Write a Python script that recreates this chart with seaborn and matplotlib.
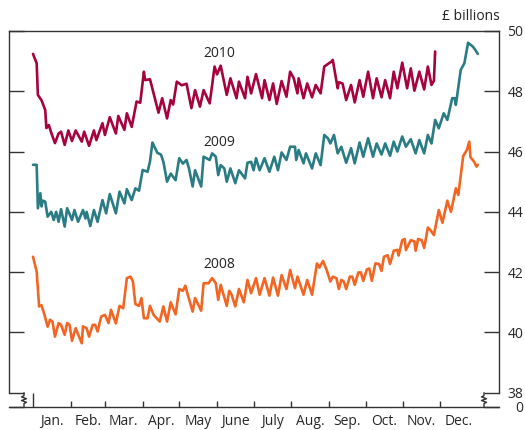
import pandas as pd
import matplotlib
matplotlib.use('Agg')
import matplotlib.pyplot as plt
import matplotlib.transforms as mtransforms
import seaborn as sns

# -----------------------------
# Data (day of year, £ billions)
# -----------------------------

days_2010 = [0, 3, 4, 7, 10, 11, 13, 15, 18, 21, 23, 26, 29, 32, 35, 40, 42, 46, 50, 52,
             57, 59, 63, 68, 70, 75, 77, 81, 85, 88, 91, 92, 96, 103, 106, 110, 113, 115,
             118, 122, 126, 130, 133, 137, 140, 145, 149, 151, 154, 159, 162, 167, 169,
             174, 176, 179, 183, 188, 190, 194, 197, 200, 204, 208, 211, 214, 217, 218,
             222, 225, 229, 232, 236, 239, 245, 246, 250, 251, 254, 257, 261, 264, 268,
             271, 275, 279, 282, 286, 289, 293, 296, 299, 303, 307, 310, 313, 317, 321,
             324, 327, 329, 330]
vals_2010 = [49.24, 48.93, 47.88, 47.70, 47.38, 46.78, 46.88, 46.62, 46.28, 46.60, 46.66,
             46.22, 46.70, 46.35, 46.70, 46.33, 46.66, 46.19, 46.70, 46.38, 46.94, 46.55,
             47.14, 46.60, 47.18, 46.72, 47.27, 46.82, 47.66, 47.62, 48.65, 48.37, 48.40,
             47.29, 47.77, 47.10, 47.71, 47.56, 48.32, 48.20, 48.25, 47.44, 48.04, 47.49,
             48.04, 47.60, 48.82, 48.56, 48.85, 47.88, 48.43, 47.77, 48.32, 47.77, 48.48,
             47.93, 48.57, 47.77, 48.37, 47.71, 48.26, 47.58, 48.34, 47.82, 48.65, 48.43,
             47.93, 48.43, 47.77, 48.26, 47.80, 48.21, 47.93, 48.82, 48.99, 49.04, 48.10,
             48.30, 48.26, 47.71, 48.21, 47.63, 48.37, 47.82, 48.65, 47.77, 48.43, 47.80,
             48.37, 47.77, 48.65, 48.10, 48.95, 48.10, 48.76, 48.02, 48.65, 48.06, 48.82,
             48.21, 48.35, 49.32]

days_2009 = [0, 3, 4, 6, 7, 8, 10, 12, 15, 17, 19, 21, 23, 26, 28, 32, 34, 37, 41, 43, 44,
             47, 50, 53, 57, 60, 63, 68, 71, 75, 77, 81, 84, 87, 90, 94, 96, 98, 102, 105,
             107, 110, 113, 115, 117, 120, 123, 126, 128, 131, 133, 138, 140, 145, 147,
             150, 152, 154, 157, 159, 162, 166, 169, 174, 176, 179, 181, 183, 186, 190,
             194, 198, 201, 204, 208, 211, 215, 216, 218, 222, 224, 229, 232, 236, 239,
             242, 244, 247, 250, 253, 257, 261, 264, 268, 271, 275, 279, 282, 286, 289,
             293, 296, 299, 303, 306, 310, 314, 317, 321, 324, 327, 330, 333, 337, 340,
             344, 346, 347, 351, 354, 357, 361, 363, 365]
vals_2009 = [45.56, 45.56, 44.12, 44.62, 44.18, 44.37, 44.34, 43.84, 44.00, 43.73, 44.00,
             43.67, 44.09, 43.51, 44.12, 43.73, 44.06, 43.67, 44.06, 43.78, 44.00, 43.53,
             44.06, 43.67, 44.39, 43.95, 44.59, 43.95, 44.67, 44.28, 44.75, 44.39, 44.78,
             44.70, 45.39, 45.33, 45.67, 46.30, 45.96, 45.90, 45.66, 45.00, 45.27, 45.16,
             45.05, 45.78, 45.60, 45.72, 45.44, 44.84, 45.38, 44.84, 45.83, 45.72, 45.94,
             45.83, 45.22, 45.55, 45.44, 45.00, 45.44, 44.95, 45.38, 45.11, 45.63, 45.66,
             45.38, 45.78, 45.38, 45.78, 45.33, 45.83, 45.38, 45.97, 45.72, 46.16, 46.16,
             45.72, 46.05, 45.61, 45.94, 45.44, 45.94, 45.55, 46.55, 46.44, 46.27, 46.55,
             45.94, 46.16, 45.63, 46.11, 45.61, 46.30, 45.83, 46.44, 45.83, 46.27, 45.90,
             46.27, 45.86, 46.33, 46.00, 46.50, 46.16, 46.41, 45.94, 46.38, 45.94, 46.55,
             46.27, 47.05, 46.77, 47.27, 47.05, 47.77, 47.77, 47.55, 48.71, 48.93, 49.61,
             49.48, 49.37, 49.24]

days_2008 = [0, 3, 5, 7, 9, 12, 14, 16, 18, 21, 23, 26, 28, 30, 32, 35, 40, 41, 44, 46, 49,
             51, 53, 56, 59, 62, 64, 68, 71, 74, 77, 80, 82, 84, 87, 89, 91, 94, 96, 99,
             104, 107, 110, 113, 117, 120, 123, 125, 127, 131, 133, 138, 140, 144, 147,
             150, 152, 154, 156, 159, 161, 163, 166, 169, 173, 176, 179, 183, 186, 190,
             194, 197, 201, 204, 208, 211, 215, 217, 222, 225, 229, 233, 235, 238, 241,
             244, 246, 249, 251, 253, 255, 257, 260, 262, 264, 267, 269, 271, 274, 276,
             278, 281, 284, 286, 288, 291, 293, 296, 299, 300, 303, 305, 306, 310, 313,
             314, 316, 319, 321, 324, 326, 329, 333, 336, 340, 343, 347, 349, 353, 356,
             358, 359, 362, 364, 365]
vals_2008 = [42.51, 42.02, 40.86, 40.90, 40.64, 40.19, 40.42, 40.36, 39.86, 40.31, 40.25,
             39.92, 40.31, 40.25, 39.72, 40.14, 39.64, 40.20, 40.14, 39.86, 40.25, 40.25,
             40.03, 40.53, 40.58, 40.31, 40.75, 40.30, 40.88, 40.80, 41.80, 41.85, 41.69,
             40.94, 40.88, 41.14, 40.47, 40.47, 40.88, 40.58, 40.36, 40.86, 40.36, 41.00,
             40.60, 41.44, 41.38, 41.55, 41.25, 40.69, 41.14, 40.72, 41.63, 41.63, 41.80,
             41.63, 41.08, 41.58, 41.30, 40.88, 41.38, 41.25, 40.86, 41.44, 41.00, 41.74,
             41.30, 41.80, 41.25, 41.80, 41.22, 41.82, 41.22, 41.90, 41.44, 42.07, 41.47,
             41.85, 41.25, 41.74, 41.25, 42.29, 42.15, 42.37, 42.07, 41.69, 41.85, 41.80,
             41.44, 41.74, 41.69, 41.44, 41.85, 41.85, 41.58, 41.99, 41.99, 41.71, 42.09,
             42.12, 41.71, 42.29, 42.27, 42.04, 42.51, 42.56, 42.27, 42.71, 42.74, 42.55,
             43.06, 43.10, 42.73, 43.06, 43.02, 42.71, 43.10, 43.06, 42.80, 43.48, 43.40,
             43.23, 44.06, 43.64, 44.37, 44.00, 44.78, 44.56, 45.85, 46.05, 46.33, 45.81,
             45.66, 45.50, 45.56]

month_labels = ['Jan.', 'Feb.', 'Mar.', 'Apr.', 'May', 'June',
                'July', 'Aug.', 'Sep.', 'Oct.', 'Nov.', 'Dec.']
y_ticks = [38, 40, 42, 44, 46, 48, 50]

colors = {'2008': '#F26522', '2009': '#2A7C84', '2010': '#A6023E'}

# -----------------------------
# Plot
# -----------------------------

sns.set_style('white')
plt.rcParams['font.family'] = ['Open Sans', 'DejaVu Sans']
plt.rcParams['text.color'] = '#222222'

fig = plt.figure(figsize=(5.25, 4.3), dpi=100)
ax = fig.add_axes([9 / 525, 1 - 407 / 430, 490 / 525, 376 / 430])

for year, d, v in [('2008', days_2008, vals_2008),
                   ('2009', days_2009, vals_2009),
                   ('2010', days_2010, vals_2010)]:
    sns.lineplot(x=d, y=v, color=colors[year], linewidth=1.9, ax=ax)

ax.text(152.6, 49.27, '2010', ha='center', va='center', fontsize=10)
ax.text(152.6, 46.29, '2009', ha='center', va='center', fontsize=10)
ax.text(152.6, 42.24, '2008', ha='center', va='center', fontsize=10)

y_bottom = 37.525
ax.set_xlim(-19.7, 382.4)
ax.set_ylim(y_bottom, 50)

# month ticks
starts = pd.date_range('2009-01-01', periods=12, freq='MS')
month_start = list(starts.dayofyear - 1)
month_mid = list(starts.dayofyear - 1 + starts.days_in_month / 2)
ax.set_xticks(month_start)
ax.set_xticklabels([])
ax.set_xticks(month_mid, minor=True)
ax.set_xticklabels(month_labels, minor=True, fontsize=10)
ax.tick_params(axis='x', which='major', direction='in', length=4.5, width=1,
               color='#333333', bottom=True)
ax.tick_params(axis='x', which='minor', length=0, pad=5, bottom=True)

# y ticks on both sides, labels on the right
ax.set_yticks([y_bottom] + y_ticks)
ax.set_yticklabels(['0'] + [str(t) for t in y_ticks], fontsize=10)
ax.tick_params(axis='y', direction='in', length=10.8, width=1, color='#333333',
               left=True, right=True, labelleft=False, labelright=True, pad=17.5)
for t in ax.yaxis.get_major_ticks():
    t.label2.set_horizontalalignment('right')
ax.xaxis.get_major_ticks()[0].tick1line.set_markersize(10.3)

for side in ['left', 'right', 'top', 'bottom']:
    ax.spines[side].set_color('#333333')
    ax.spines[side].set_linewidth(1)
ax.spines['left'].set_bounds(38, 50)
ax.spines['right'].set_bounds(38, 50)

# axis break marks
trans = mtransforms.blended_transform_factory(ax.transAxes, ax.transData)
d = 2.5 / 490
zig_y = [38, 37.9, 37.86, 37.8, 37.74, 37.68, 37.64, y_bottom]
for x0 in [15 / 490, 475 / 490]:
    zig_x = [x0, x0, x0 - d, x0 + d, x0 - d, x0 + d, x0, x0]
    ax.plot(zig_x, zig_y, color='#333333', lw=1, transform=trans, clip_on=False)

ax.set_xlabel('')
ax.set_ylabel('')
fig.text(500 / 525, 1 - 17 / 430, '£ billions', ha='right', va='center', fontsize=10)

fig.savefig('out.png', dpi=100)
